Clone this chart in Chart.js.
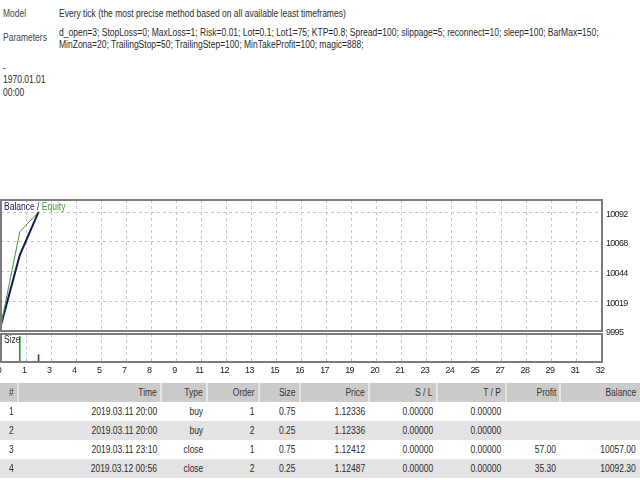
<!DOCTYPE html>
<html><head><meta charset="utf-8">
<script src="https://cdn.jsdelivr.net/npm/chart.js@4.4.0/dist/chart.umd.min.js"></script>
<style>
html,body{margin:0;padding:0;background:#fff;}
body{width:640px;height:480px;overflow:hidden;position:relative;font-family:"Liberation Sans",Arial,sans-serif;font-size:10px;color:#2a2a2a;}
.t{position:absolute;white-space:nowrap;line-height:12px;height:12px;transform:scaleX(0.85);transform-origin:0 50%;z-index:5;}
.r{transform-origin:100% 50%;text-align:right;}
canvas{position:absolute;left:0;}
.band{position:absolute;left:0;width:640px;height:19px;}
.sep{position:absolute;top:383px;width:2px;height:19px;background:#e6e6e6;}
</style></head><body>
<canvas id="main" width="640" height="140" style="top:195px;width:640px;height:140px"></canvas>
<canvas id="size" width="640" height="48" style="top:332px;width:640px;height:48px"></canvas>
<div id="root"></div>
<script>
// ---- data ----
const tradeIndex = [0, 1, 2];
const balance = [10000, 10057.00, 10092.30];
const equity = [10000, 10076, 10092.30];
const sizeIndex = [1, 2];
const sizeValues = [0.75, 0.25];
const yTickValues = [9995, 10019.25, 10043.5, 10067.75, 10092];
const yTickLabels = ['9995', '10019', '10044', '10068', '10092'];
const xTickLabels = ['0','1','3','4','5','7','8','9','11','12','13','15','16','17','19','20','21','23','24','25','27','28','29','31','32'];
const xMax = 32;
const yMin = 9995, yMax = 10102;

const tableHeaders = ['#', 'Time', 'Type', 'Order', 'Size', 'Price', 'S / L', 'T / P', 'Profit', 'Balance'];
const colNum = ['1', '2', '3', '4'];
const colTime = ['2019.03.11 20:00', '2019.03.11 20:00', '2019.03.11 23:10', '2019.03.12 00:56'];
const colType = ['buy', 'buy', 'close', 'close'];
const colOrder = ['1', '2', '1', '2'];
const colSize = ['0.75', '0.25', '0.75', '0.25'];
const colPrice = ['1.12336', '1.12336', '1.12412', '1.12487'];
const colSL = ['0.00000', '0.00000', '0.00000', '0.00000'];
const colTP = ['0.00000', '0.00000', '0.00000', '0.00000'];
const colProfit = ['', '', '57.00', '35.30'];
const colBalance = ['', '', '10057.00', '10092.30'];

// ---- text helpers ----
const root = document.getElementById('root');
function txt(s, x, cy, opts) {
  opts = opts || {};
  const d = document.createElement('div');
  d.className = 't' + (opts.right ? ' r' : '');
  d.textContent = s;
  d.style.top = (cy - 6) + 'px';
  if (opts.right) d.style.right = (640 - x) + 'px'; else d.style.left = x + 'px';
  if (opts.color) d.style.color = opts.color;
  root.appendChild(d);
  return d;
}
function band(y, color) {
  const d = document.createElement('div');
  d.className = 'band'; d.style.top = y + 'px'; d.style.background = color;
  root.appendChild(d);
}

// top info
txt('Model', 3, 14, {color:'#444'});
txt('Every tick (the most precise method based on all available least timeframes)', 59, 14);
txt('Parameters', 3, 38, {color:'#444'});
txt('d_open=3; StopLoss=0; MaxLoss=1; Risk=0.01; Lot=0.1; Lot1=75; KTP=0.8; Spread=100; slippage=5; reconnect=10; sleep=100; BarMax=150;', 59, 33);
txt('MinZona=20; TrailingStop=50; TrailingStep=100; MinTakeProfit=100; magic=888;', 59, 45);
txt('-', 3, 68);
txt('1970.01.01', 3, 80);
txt('00:00', 3, 93);

// chart labels
const lg = txt('', 4, 207);
lg.innerHTML = '<span style="color:#1a1a5e">Balance / </span><span style="color:#3c9a3c">Equity</span>';
txt('Size', 4, 340, {color:'#333'});

// table
band(383, '#cbcbcb');
band(421, '#e3e3e3');
band(459, '#e3e3e3');
[17, 160, 206, 258, 299, 368, 436, 505, 559].forEach(x => {
  const s = document.createElement('div'); s.className = 'sep'; s.style.left = x + 'px'; root.appendChild(s);
});
const colRight = [null, 157, 203, 255, 295, 365, 433, 501, 556, 636];
const cols = [colNum, colTime, colType, colOrder, colSize, colPrice, colSL, colTP, colProfit, colBalance];
const headY = 392.5, rowY0 = 411.5, rowH = 19;
tableHeaders.forEach((h, c) => {
  if (c === 0) txt(h, 9, headY, {color:'#333'});
  else txt(h, colRight[c], headY, {right:true, color:'#333'});
});
for (let r = 0; r < colNum.length; r++) {
  cols.forEach((col, c) => {
    if (!col[r]) return;
    if (c === 0) txt(col[r], 9, rowY0 + r * rowH);
    else txt(col[r], colRight[c], rowY0 + r * rowH, {right:true});
  });
}

// ---- charts ----
const spacingPlugin = {
  id: 'spacing',
  beforeUpdate(chart) { chart.ctx.letterSpacing = '-0.7px'; },
  beforeDraw(chart) { chart.ctx.letterSpacing = '-0.7px'; }
};
const boxPlugin = {
  id: 'box',
  afterDraw(chart) {
    const a = chart.chartArea, ctx = chart.ctx;
    ctx.save();
    ctx.strokeStyle = '#7c7c7c';
    ctx.lineWidth = 2;
    ctx.strokeRect(a.left, a.top, a.right - a.left, a.bottom - a.top);
    ctx.restore();
  }
};
const gridColor = '#c6c6c6';
const labelFont = {family: 'Liberation Sans', size: 9};

function xScale(showLabels) {
  return {
    type: 'linear', min: 0, max: xMax, offset: false,
    afterBuildTicks: s => { s.ticks = xTickLabels.map((l, i) => ({value: i * xMax / (xTickLabels.length - 1)})); },
    ticks: {
      display: showLabels, autoSkip: false, maxRotation: 0, minRotation: 0,
      callback: (v, i) => xTickLabels[i], font: labelFont, color: '#222', padding: 3, labelOffset: -2
    },
    grid: {color: gridColor, drawTicks: false, offset: false},
    border: {display: false, dash: [3, 3]},
    afterFit: s => { s.height = showLabels ? 18 : 0; s.paddingLeft = 0; s.paddingRight = 0; }
  };
}

new Chart(document.getElementById('main'), {
  type: 'line',
  data: {
    datasets: [
      {label: 'Equity', data: tradeIndex.map((x, i) => ({x, y: equity[i]})), borderColor: '#3c9a3c', borderWidth: 1, pointRadius: 0, tension: 0},
      {label: 'Balance', data: tradeIndex.map((x, i) => ({x, y: balance[i]})), borderColor: '#16165e', borderWidth: 2, pointRadius: 0, tension: 0}
    ]
  },
  options: {
    responsive: false, animation: false, events: [],
    layout: {padding: {left: 1, right: 0, top: 5, bottom: 4}},
    plugins: {legend: {display: false}, tooltip: {enabled: false}},
    scales: {
      x: xScale(false),
      y: {
        type: 'linear', position: 'right', min: yMin, max: yMax,
        afterBuildTicks: s => { s.ticks = yTickValues.map(v => ({value: v})); },
        ticks: {callback: (v, i) => yTickLabels[i], padding: 4, font: labelFont, color: '#222', labelOffset: 2, autoSkip: false},
        grid: {color: gridColor, drawTicks: false},
        border: {display: false, dash: [3, 3]},
        afterFit: s => { s.width = 38; s.paddingTop = 0; s.paddingBottom = 0; }
      }
    }
  },
  plugins: [spacingPlugin, boxPlugin]
});

new Chart(document.getElementById('size'), {
  type: 'bar',
  data: {
    datasets: [{data: sizeIndex.map((x, i) => ({x, y: sizeValues[i]})), backgroundColor: ['#2f942f', '#2a5a2a'], borderWidth: 0, barThickness: 1}]
  },
  options: {
    responsive: false, animation: false, events: [],
    layout: {padding: {left: 1, right: 0, top: 2, bottom: 0}},
    plugins: {legend: {display: false}, tooltip: {enabled: false}},
    scales: {
      x: xScale(true),
      y: {
        type: 'linear', position: 'right', min: 0.05, max: 0.81,
        ticks: {display: false}, grid: {display: false}, border: {display: false},
        afterFit: s => { s.width = 38; s.paddingTop = 0; s.paddingBottom = 0; }
      }
    }
  },
  plugins: [spacingPlugin, boxPlugin]
});
</script>
</body></html>
